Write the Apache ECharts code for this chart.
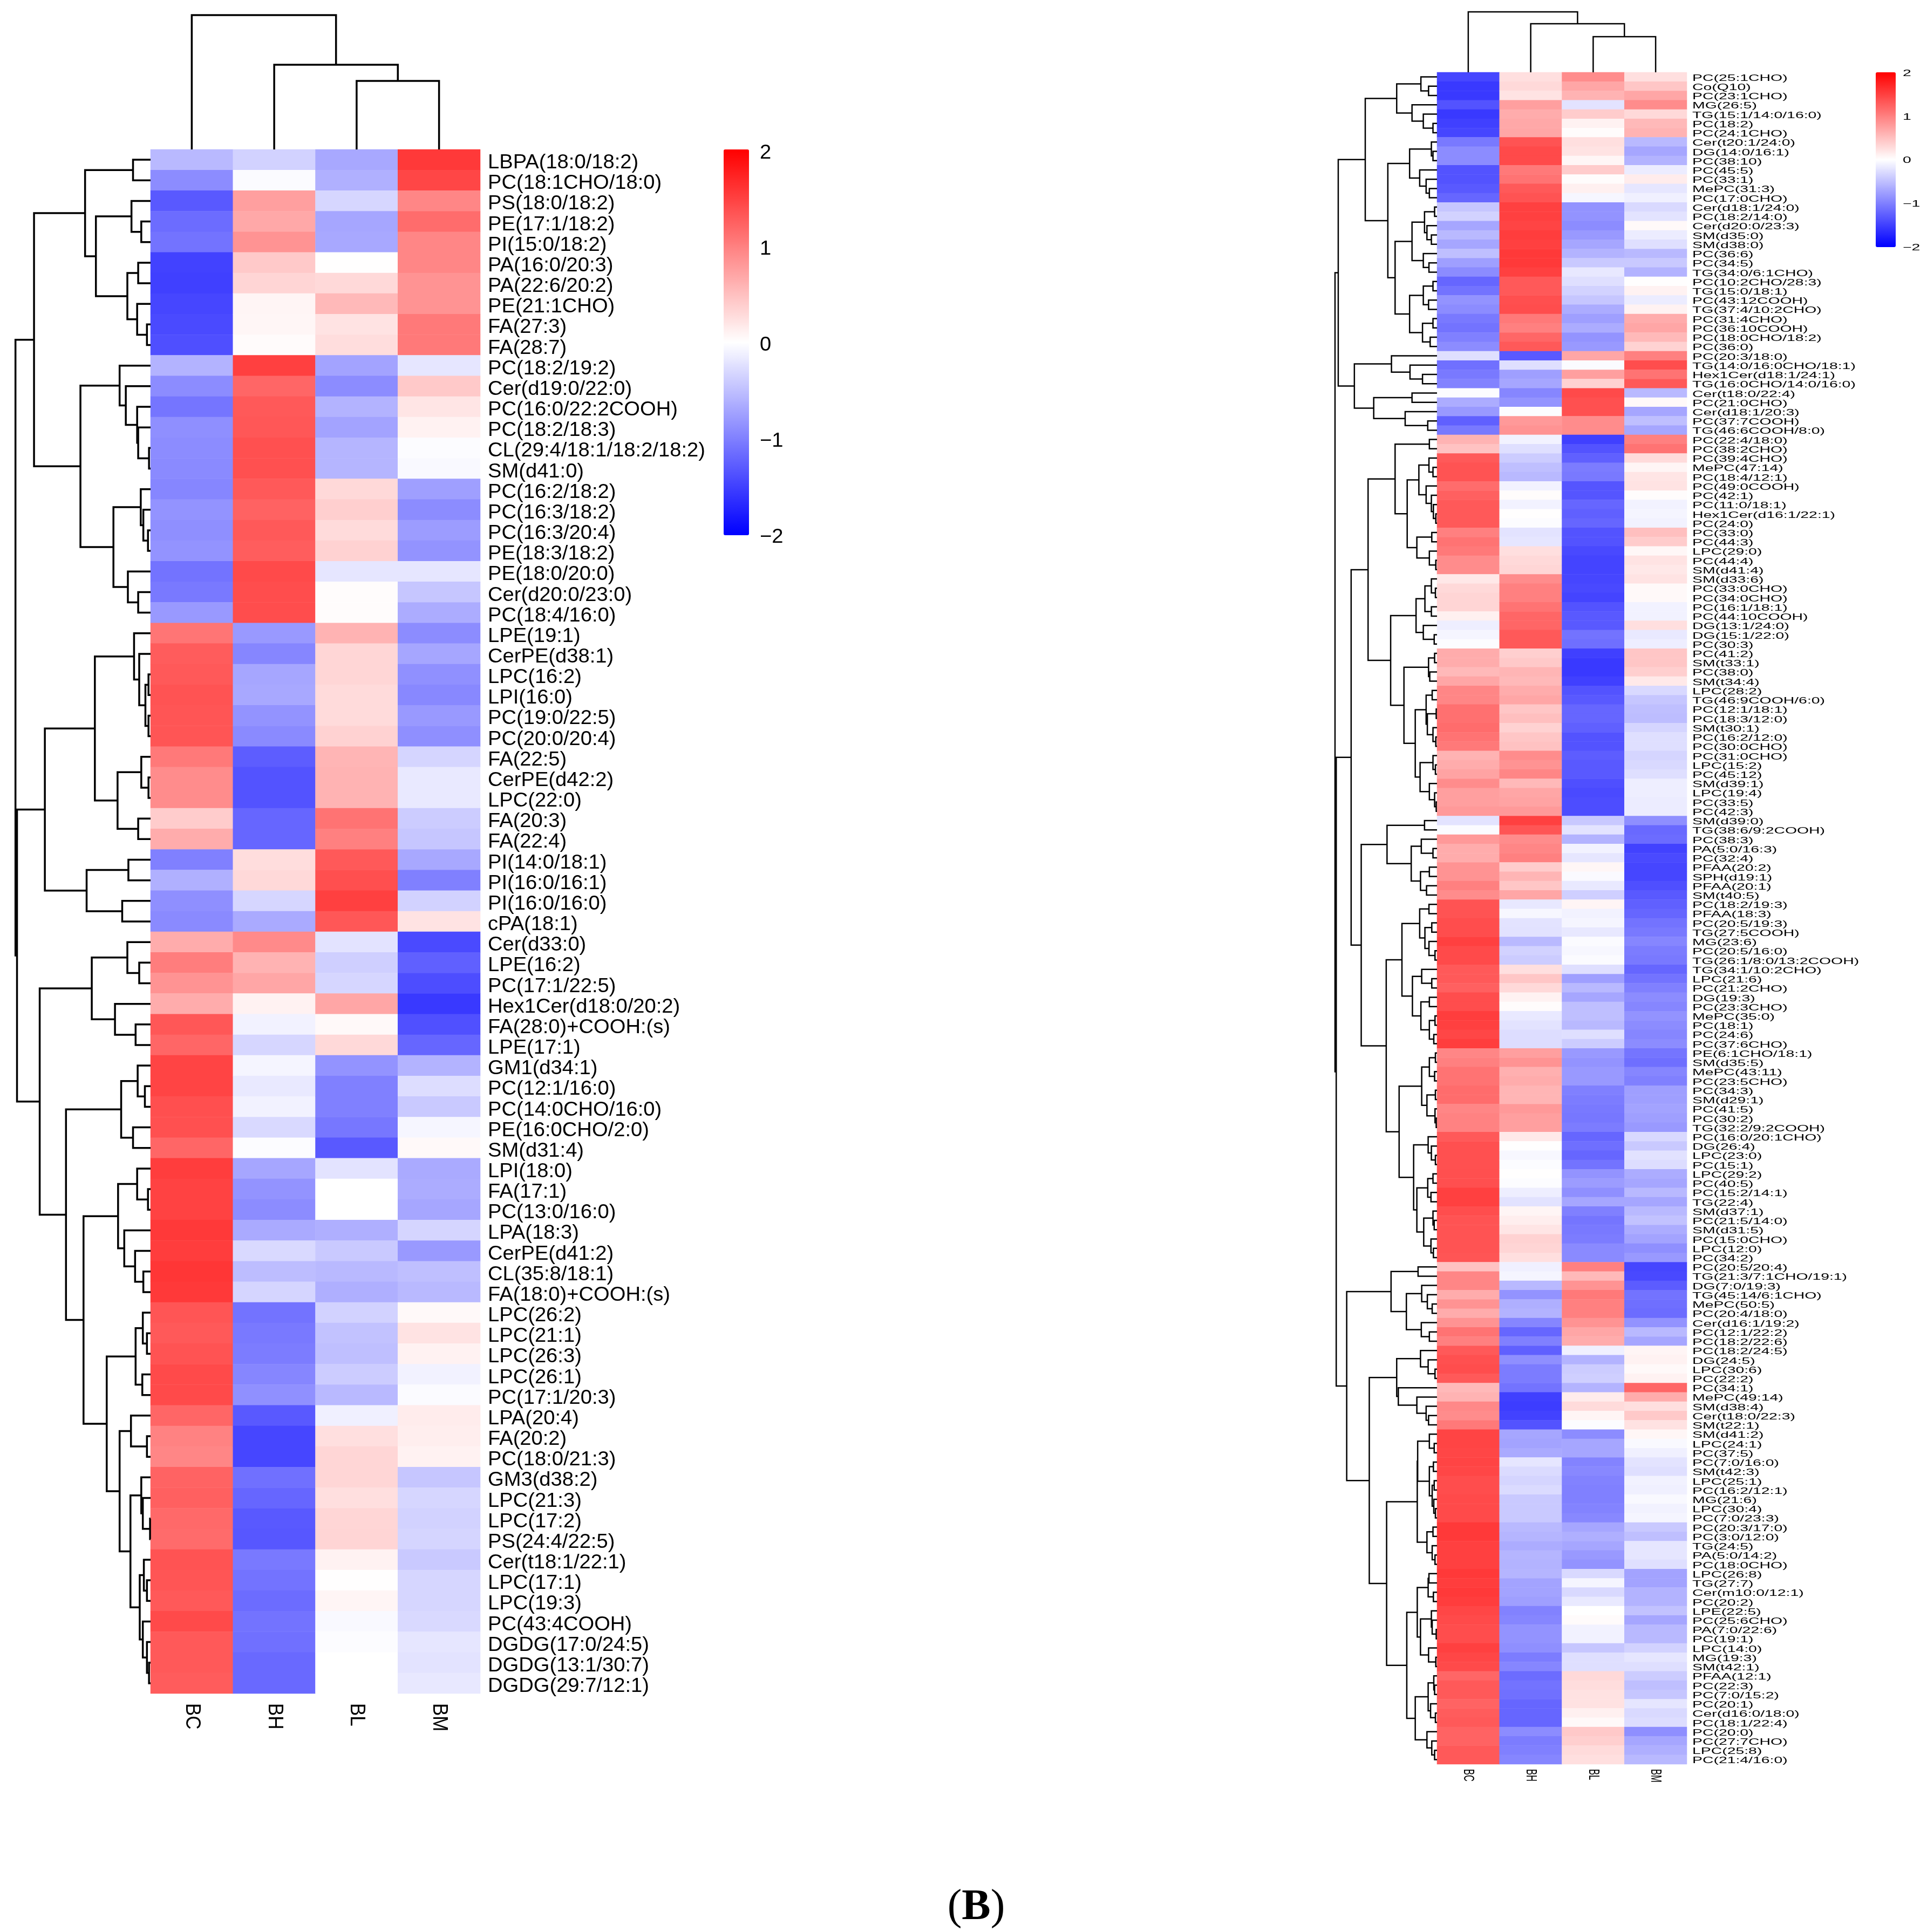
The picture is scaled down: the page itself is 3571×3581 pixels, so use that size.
<!DOCTYPE html>
<html><head><meta charset="utf-8"><style>html,body{margin:0;padding:0;background:#fff}#c{width:3571px;height:3581px}</style>
<script src="https://cdn.jsdelivr.net/npm/echarts@6/dist/echarts.min.js"></script></head><body><div id="c"></div>
<script>
const columns=['BC','BH','BL','BM'];
const legendTicks=[2,1,0,-1,-2];
const caption='B';

const leftRows=['LBPA(18:0/18:2)','PC(18:1CHO/18:0)','PS(18:0/18:2)','PE(17:1/18:2)','PI(15:0/18:2)','PA(16:0/20:3)','PA(22:6/20:2)','PE(21:1CHO)','FA(27:3)','FA(28:7)','PC(18:2/19:2)','Cer(d19:0/22:0)','PC(16:0/22:2COOH)','PC(18:2/18:3)','CL(29:4/18:1/18:2/18:2)','SM(d41:0)','PC(16:2/18:2)','PC(16:3/18:2)','PC(16:3/20:4)','PE(18:3/18:2)','PE(18:0/20:0)','Cer(d20:0/23:0)','PC(18:4/16:0)','LPE(19:1)','CerPE(d38:1)','LPC(16:2)','LPI(16:0)','PC(19:0/22:5)','PC(20:0/20:4)','FA(22:5)','CerPE(d42:2)','LPC(22:0)','FA(20:3)','FA(22:4)','PI(14:0/18:1)','PI(16:0/16:1)','PI(16:0/16:0)','cPA(18:1)','Cer(d33:0)','LPE(16:2)','PC(17:1/22:5)','Hex1Cer(d18:0/20:2)','FA(28:0)+COOH:(s)','LPE(17:1)','GM1(d34:1)','PC(12:1/16:0)','PC(14:0CHO/16:0)','PE(16:0CHO/2:0)','SM(d31:4)','LPI(18:0)','FA(17:1)','PC(13:0/16:0)','LPA(18:3)','CerPE(d41:2)','CL(35:8/18:1)','FA(18:0)+COOH:(s)','LPC(26:2)','LPC(21:1)','LPC(26:3)','LPC(26:1)','PC(17:1/20:3)','LPA(20:4)','FA(20:2)','PC(18:0/21:3)','GM3(d38:2)','LPC(21:3)','LPC(17:2)','PS(24:4/22:5)','Cer(t18:1/22:1)','LPC(17:1)','LPC(19:3)','PC(43:4COOH)','DGDG(17:0/24:5)','DGDG(13:1/30:7)','DGDG(29:7/12:1)'];
const leftBC=[-.55,-.9,-1.3,-1.15,-1.1,-1.48,-1.5,-1.45,-1.42,-1.38,-.6,-.9,-1.08,-.88,-.9,-.92,-.95,-.85,-.88,-.85,-1.1,-1.05,-.8,1.08,1.28,1.3,1.35,1.33,1.33,1.05,.9,.9,.4,.65,-1,-.62,-.88,-.92,.65,1.02,.85,.65,1.32,1.2,1.47,1.47,1.38,1.37,1.2,1.52,1.48,1.48,1.55,1.52,1.58,1.55,1.33,1.3,1.35,1.42,1.42,1.2,.98,.95,1.22,1.25,1.18,1.16,1.35,1.33,1.3,1.42,1.3,1.3,1.28];
const leftBH=[-.35,-.03,.75,.68,.85,.42,.33,.08,.07,.03,1.5,1.2,1.3,1.32,1.37,1.37,1.3,1.23,1.3,1.27,1.42,1.4,1.4,-.8,-.95,-.7,-.68,-.85,-.92,-1.27,-1.35,-1.35,-1.2,-1.2,.27,.3,-.32,-.67,.92,.6,.7,.1,-.1,-.32,-.08,-.17,-.1,-.3,-.02,-.7,-.85,-.9,-.67,-.3,-.52,-.33,-1.1,-1.05,-1.03,-.95,-.87,-1.3,-1.45,-1.45,-1.12,-1.2,-1.3,-1.32,-1.05,-1.1,-1.15,-1.1,-1.12,-1.18,-1.18];
const leftBL=[-.68,-.62,-.32,-.7,-.68,.01,.3,.55,.22,.27,-.72,-.9,-.6,-.72,-.58,-.58,.3,.38,.28,.35,-.2,.02,.02,.6,.32,.32,.28,.28,.35,.58,.6,.6,1.1,1,1.3,1.38,1.5,1.32,-.22,-.38,-.32,.7,.05,.3,-.85,-1,-1,-1.07,-1.3,-.22,0,0,-.63,-.42,-.55,-.63,-.35,-.48,-.5,-.4,-.55,-.12,.25,.32,.32,.25,.32,.33,.1,.01,.08,-.05,-.02,0,0];
const leftBM=[1.55,1.45,.95,1.15,.95,.95,.85,.85,1.05,1.05,-.2,.42,.2,.1,-.02,-.05,-.75,-.9,-.78,-.85,-.2,-.45,-.65,-.9,-.7,-.87,-.93,-.8,-.88,-.33,-.17,-.17,-.4,-.45,-.68,-1,-.35,.22,-1.42,-1.25,-1.4,-1.55,-1.37,-1.2,-.6,-.27,-.42,-.07,.05,-.67,-.65,-.7,-.33,-.8,-.5,-.55,.05,.22,.1,-.1,-.03,.15,.13,.1,-.45,-.32,-.35,-.33,-.42,-.32,-.32,-.3,-.2,-.22,-.18];
// clustering trees: [merge distance, child, child]; a bare number is a row (1-based) or column
const leftRowTree=[262,
 [226,
  [127,[34,1,2],[106,[37,3,[18,4,5]],[45,[24,6,7],[26,8,[7,9,10]]]]],
  [136,[60,11,[48,12,[26,13,[24,14,[3,15,16]]]]],[72,[19,17,[14,18,[5,19,20]]],[44,21,[24,22,23]]]]],
 [259,
  [205,
   [108,[32,24,[22,25,[10,[4,26,27],[4,28,29]]]],[64,[18,30,[4,31,32]],[24,33,34]]],
   [124,[43,35,36],[55,37,38]]],
  [215,
   [114,[45,39,[22,40,41]],[69,42,[29,43,44]]],
   [164,
    [57,[25,45,[11,46,47]],[34,48,49]],
    [130,
     [63,[26,50,[5,51,52]],[51,53,[30,54,[14,55,56]]]],
     [85,[29,[15,57,[7,58,59]],[16,60,61]],[60,[38,62,[7,63,64]],[39,[18,65,[15,66,[1,67,68]]],[21,[13,69,[7,70,71]],[15,72,[7,73,[3,74,75]]]]]]]]]]]];
const leftColTree=[249,1,[157,2,[127,3,4]]];

const rightRows=['PC(25:1CHO)','Co(Q10)','PC(23:1CHO)','MG(26:5)','TG(15:1/14:0/16:0)','PC(18:2)','PC(24:1CHO)','Cer(t20:1/24:0)','DG(14:0/16:1)','PC(38:10)','PC(45:5)','PC(33:1)','MePC(31:3)','PC(17:0CHO)','Cer(d18:1/24:0)','PC(18:2/14:0)','Cer(d20:0/23:3)','SM(d35:0)','SM(d38:0)','PC(36:6)','PC(34:5)','TG(34:0/6:1CHO)','PC(10:2CHO/28:3)','TG(15:0/18:1)','PC(43:12COOH)','TG(37:4/10:2CHO)','PC(31:4CHO)','PC(36:10COOH)','PC(18:0CHO/18:2)','PC(36:0)','PC(20:3/18:0)','TG(14:0/16:0CHO/18:1)','Hex1Cer(d18:1/24:1)','TG(16:0CHO/14:0/16:0)','Cer(t18:0/22:4)','PC(21:0CHO)','Cer(d18:1/20:3)','PC(37:7COOH)','TG(46:6COOH/8:0)','PC(22:4/18:0)','PC(38:2CHO)','PC(39:4CHO)','MePC(47:14)','PC(18:4/12:1)','PC(49:0COOH)','PC(42:1)','PC(11:0/18:1)','Hex1Cer(d16:1/22:1)','PC(24:0)','PC(33:0)','PC(44:3)','LPC(29:0)','PC(44:4)','SM(d41:4)','SM(d33:6)','PC(33:0CHO)','PC(34:0CHO)','PC(16:1/18:1)','PC(44:10COOH)','DG(13:1/24:0)','DG(15:1/22:0)','PC(30:3)','PC(41:2)','SM(t33:1)','PC(38:0)','SM(t34:4)','LPC(28:2)','TG(46:9COOH/6:0)','PC(12:1/18:1)','PC(18:3/12:0)','SM(t30:1)','PC(16:2/12:0)','PC(30:0CHO)','PC(31:0CHO)','LPC(15:2)','PC(45:12)','SM(d39:1)','LPC(19:4)','PC(33:5)','PC(42:3)','SM(d39:0)','TG(38:6/9:2COOH)','PC(38:3)','PA(5:0/16:3)','PC(32:4)','PFAA(20:2)','SPH(d19:1)','PFAA(20:1)','SM(t40:5)','PC(18:2/19:3)','PFAA(18:3)','PC(20:5/19:3)','TG(27:5COOH)','MG(23:6)','PC(20:5/16:0)','TG(26:1/8:0/13:2COOH)','TG(34:1/10:2CHO)','LPC(21:6)','PC(21:2CHO)','DG(19:3)','PC(23:3CHO)','MePC(35:0)','PC(18:1)','PC(24:6)','PC(37:6CHO)','PE(6:1CHO/18:1)','SM(d35:5)','MePC(43:11)','PC(23:5CHO)','PC(34:3)','SM(d29:1)','PC(41:5)','PC(30:2)','TG(32:2/9:2COOH)','PC(16:0/20:1CHO)','DG(26:4)','LPC(23:0)','PC(15:1)','LPC(29:2)','PC(40:5)','PC(15:2/14:1)','TG(22:4)','SM(d37:1)','PC(21:5/14:0)','SM(d31:5)','PC(15:0CHO)','LPC(12:0)','PC(34:2)','PC(20:5/20:4)','TG(21:3/7:1CHO/19:1)','DG(7:0/19:3)','TG(45:14/6:1CHO)','MePC(50:5)','PC(20:4/18:0)','Cer(d16:1/19:2)','PC(12:1/22:2)','PC(18:2/22:6)','PC(18:2/24:5)','DG(24:5)','LPC(30:6)','PC(22:2)','PC(34:1)','MePC(49:14)','SM(d38:4)','Cer(t18:0/22:3)','SM(t22:1)','SM(d41:2)','LPC(24:1)','PC(37:5)','PC(7:0/16:0)','SM(t42:3)','LPC(25:1)','PC(16:2/12:1)','MG(21:6)','LPC(30:4)','PC(7:0/23:3)','PC(20:3/17:0)','PC(3:0/12:0)','TG(24:5)','PA(5:0/14:2)','PC(18:0CHO)','LPC(26:8)','TG(27:7)','Cer(m10:0/12:1)','PC(20:2)','LPE(22:5)','PC(25:6CHO)','PA(7:0/22:6)','PC(19:1)','LPC(14:0)','MG(19:3)','SM(t42:1)','PFAA(12:1)','PC(22:3)','PC(7:0/15:2)','PC(20:1)','Cer(d16:0/18:0)','PC(18:1/22:4)','PC(20:0)','PC(27:7CHO)','LPC(25:8)','PC(21:4/16:0)'];
const rightBC=[-1.45,-1.55,-1.55,-1.35,-1.55,-1.5,-1.45,-1.05,-.9,-.9,-1.35,-1.35,-1.3,-1.2,-.45,-.35,-.7,-.55,-.7,-.5,-.75,-.9,-1.2,-1.1,-.85,-.9,-1.05,-1.1,-1,-.9,-.25,-1.12,-1.05,-.98,-.02,-.65,-.8,-1.25,-1.05,.6,.48,1.3,1.35,1.35,1.15,1.25,1.3,1.3,1.3,1,1.1,1.05,.9,.9,.18,.3,.33,.33,.12,-.13,-.08,-.02,.65,.65,.55,.7,.95,.95,1.12,1.12,1.15,1.1,1.05,.6,.65,.72,.9,.75,.75,.8,-.22,-.03,.8,.65,.65,.85,.85,1,.9,1.35,1.35,1.4,1.4,1.5,1.42,1.42,1.3,1.3,1.25,1.4,1.4,1.52,1.5,1.45,1.52,.95,1,1.1,1.1,1.15,1.15,.95,.98,.98,1.3,1.37,1.37,1.37,1.38,1.38,1.5,1.5,1.4,1.35,1.35,1.35,1.35,1.33,.48,.95,.95,.65,.85,.65,.85,1.1,1,1.3,1.37,1.4,1.3,.55,.6,.93,.9,1.05,1.47,1.47,1.45,1.47,1.45,1.4,1.4,1.42,1.42,1.42,1.55,1.55,1.5,1.5,1.5,1.55,1.52,1.55,1.52,1.45,1.42,1.4,1.4,1.5,1.45,1.42,1.2,1.3,1.3,1.22,1.28,1.3,1.22,1.22,1.3,1.3];
const rightBH=[.25,.3,.22,.75,.65,.68,.7,1.35,1.42,1.42,1.05,1.1,1.3,1.35,1.5,1.5,1.47,1.52,1.5,1.55,1.55,1.5,1.3,1.3,1.38,1.4,1.05,1,1.2,1.3,-1.3,-.25,-.75,-.7,-.95,-.85,-.02,.8,.85,-.1,-.25,-.4,-.5,-.55,-.1,.02,-.1,.01,-.02,-.22,-.2,.25,.3,.32,.9,1,1,1.1,1.2,1.2,1.3,1.3,.38,.42,.58,.55,.65,.7,.45,.5,.35,.45,.48,.9,.85,.95,.55,.7,.72,.8,1.5,1.33,.9,.95,1,.4,.58,.45,.7,-.18,-.06,-.22,-.23,-.55,-.35,-.4,.25,.45,.3,.1,.02,-.17,-.22,-.27,-.27,.75,.85,.62,.65,.58,.58,.8,.75,.75,.18,.01,-.06,-.02,.01,-.02,-.13,-.23,.08,.13,.2,.35,.33,.25,-.12,-.08,-.55,-.85,-.63,-.6,-.95,-1.2,-1,-1.25,-.88,-1.03,-1.03,-1.1,-1.5,-1.52,-1.48,-1.35,-.7,-.72,-.67,-.2,-.28,-.33,-.28,-.42,-.42,-.42,-.55,-.58,-.65,-.58,-.6,-.58,-.72,-.72,-.75,-.98,-.95,-.85,-.85,-.88,-1.03,-.95,-1.15,-1.1,-1.12,-1.2,-1.2,-1.2,-.9,-1.03,-1,-.95];
const rightBL=[.9,.7,.6,-.22,.4,.1,.02,.25,.22,.07,.4,.02,.12,-.07,-.85,-.85,-.9,-.8,-.7,-.6,-.42,-.18,-.25,-.35,-.45,-.65,-.75,-.65,-.85,-.8,.7,-.03,.75,.35,1.42,1.37,1.37,.9,.9,-1.5,-1.35,-1.25,-1.03,-1.05,-1.33,-1.33,-1.2,-1.25,-1.2,-1.35,-1.35,-1.43,-1.47,-1.47,-1.45,-1.43,-1.47,-1.35,-1.3,-1.3,-1.1,-1.13,-1.5,-1.55,-1.55,-1.5,-1.35,-1.3,-1.2,-1.2,-1.25,-1.35,-1.35,-1.27,-1.3,-1.3,-1.38,-1.42,-1.4,-1.4,-.43,-.22,-.6,-.1,-.2,.07,-.04,-.17,-.38,.08,-.1,-.08,-.18,-.03,-.06,-.03,-.25,-.75,-.55,-.7,-.5,-.5,-.55,-.25,-.4,-.8,-.85,-.8,-.8,-1,-1.03,-1.05,-1.07,-1.03,-1.2,-1.13,-1.2,-1.1,-.85,-.78,-.88,-.7,-1,-1.08,-1.05,-1.03,-.92,-.92,1,.55,.85,1.05,1,1,.85,.7,.65,-.12,-.6,-.4,-.38,-.6,.15,.28,.08,-.02,-.9,-.7,-.7,-.97,-.93,-.98,-1,-1,-.97,-.93,-.7,-.63,-.7,-.8,-.85,-.3,-.08,-.3,-.17,0,.03,-.1,-.1,-.45,-.25,-.25,.3,.27,.23,.23,.12,.05,.42,.38,.28,.25];
const rightBM=[.25,.45,.7,.9,.3,.55,.6,-.55,-.7,-.6,-.15,.15,-.2,-.12,-.3,-.22,.05,-.15,-.25,-.55,-.42,-.6,.01,.1,-.15,.1,.65,.7,.55,.35,1,1.4,1.1,1.3,-.55,.05,-.7,-.5,-.7,1,1.1,.28,.08,.2,.22,.02,-.1,-.08,-.1,.5,.4,.06,.22,.18,.22,.05,.05,-.1,-.1,.25,-.17,-.13,.45,.45,.38,.17,-.3,-.45,-.5,-.52,-.33,-.25,-.25,-.33,-.3,-.25,-.13,-.13,-.15,-.15,-.88,-1.18,-1.15,-1.48,-1.42,-1.45,-1.45,-1.38,-1.3,-1.25,-1.2,-1.1,-1.05,-.95,-1.03,-1.05,-1.2,-1.1,-1,-.9,-.95,-.85,-.9,-.95,-.9,-1.08,-1.13,-.95,-1,-.75,-.75,-.72,-.75,-.8,-.3,-.42,-.23,-.27,-.65,-.7,-.55,-.7,-.55,-.48,-.65,-.72,-.88,-.8,-1.45,-1.43,-1.28,-1.1,-1.13,-1.15,-.85,-.55,-.7,.08,.1,.05,.1,1.2,.65,.25,.42,.23,.07,-.05,-.12,-.22,-.25,-.1,-.12,-.05,-.1,-.08,-.42,-.5,-.2,-.2,-.25,-.72,-.72,-.6,-.6,-.48,-.7,-.55,-.55,-.35,-.2,-.25,-.4,-.5,-.45,-.2,-.3,-.27,-.88,-.7,-.63,-.55];
const rightRowTree=[253,
 [245,
  [178,
   [100,[40,1,[21,2,3]],[62,4,[34,5,[10,6,7]]]],
   [122,
    [68,[14,8,[10,9,10]],[43,11,[27,12,[19,13,14]]]],
    [104,
     [62,[31,[6,15,16],[25,17,[14,18,19]]],[34,20,[20,21,22]]],
     [68,[34,[10,23,24],[21,25,26]],[36,[10,27,28],[17,29,30]]]]]],
  [205,[113,31,[67,32,[36,33,34]]],[157,[62,35,36],[79,37,[23,38,39]]]]],
 [250,
  [213,
   [171,
    [104,[19,40,41],[74,[45,[20,42,[10,43,44]],[27,45,[14,46,[9,47,[3,48,49]]]]],[50,[13,50,51],[19,52,[3,53,54]]]]],
    [115,
     [52,[30,[14,55,[4,56,57]],[14,58,59]],[34,60,[7,61,62]]],
     [82,[21,[6,63,64],[18,65,66]],[54,[27,[12,67,68],[24,[2,69,70],[10,71,[3,72,73]]]],[42,[10,74,[4,75,76]],[19,77,[6,78,[2,79,80]]]]]]]],
   [188,
    [124,[31,81,82],[64,[39,83,[10,84,85]],[41,[19,86,87],[26,88,89]]]],
    [126,
     [87,[43,[20,90,91],[30,[13,92,93],[20,94,[5,95,96]]]],[61,[38,97,[13,98,99]],[40,[19,100,101],[19,[5,102,103],[8,104,105]]]]],
     [94,
      [38,[19,[4,106,107],[6,108,109]],[25,[4,110,111],[5,112,[2,113,114]]]],
      [58,[22,115,[14,116,[4,117,118]]],[50,[23,[10,119,120],[15,121,122]],[33,[10,123,[7,124,125]],[15,126,[9,127,128]]]]]]]]],
  [224,
   [114,[47,129,130],[76,[38,131,[24,132,[12,133,134]]],[39,135,[19,136,137]]]],
   [168,
    [100,[41,138,[22,139,[5,140,141]]],[96,142,[50,143,[27,144,[21,145,146]]]]],
    [125,
     [49,[48,[19,147,[7,148,149]],[19,[9,150,151],[12,[7,152,153],[8,154,[4,155,156]]]]],[25,[10,157,158],[12,159,[5,160,161]]]],
     [75,
      [49,[22,[20,162,163],[9,164,165]],[41,[14,166,[12,167,[2,168,169]]],[21,170,[3,171,172]]]],
      [54,[22,[8,173,[6,174,175]],[16,176,[4,177,178]]],[25,179,[13,180,[6,181,182]]]]]]]]]];
const rightColTree=[112,1,[90,2,[66,3,4]]];

// layout of the two panels
const panels=[
 {rows:leftRows,vals:[leftBC,leftBH,leftBL,leftBM],rowTree:leftRowTree,colTree:leftColTree,
  x:279,y:277,w:611,h:2862,dendMax:292,dendLeft:0,colTop:28,colMax:249,
  barX:1341,barW:47,barH:715,font:36.5,stretch:1.045,colFont:35,colStretch:1.09,labelGap:14,colGap:18,tickX:1408,lw:3.5,tickMax:2.02,rowDy:6,tickDy:3.5},
 {rows:rightRows,vals:[rightBC,rightBH,rightBL,rightBM],rowTree:rightRowTree,colTree:rightColTree,
  x:2663,y:134,w:463,h:3136,dendMax:352,dendLeft:2400,colTop:22,colMax:112,
  barX:3476,barW:37,barH:324,font:16.5,stretch:1.72,colFont:16.5,colStretch:1.72,labelGap:10,colGap:9,tickX:3526,lw:2.5,tickMax:2.02,rowDy:2.5,tickDy:1}
];

function treeSegments(t,out){
 if(typeof t==='number')return {h:0,p:t-0.5};
 const a=treeSegments(t[1],out),b=treeSegments(t[2],out);
 out.push([a.h,a.p,t[0],b.p,b.h]);
 return {h:t[0],p:(a.p+b.p)/2};
}
const grids=[],xAxes=[],yAxes=[],series=[],visualMaps=[];
const FONT='"Liberation Sans",Arial,sans-serif';
function addGrid(g,xa,ya){
 grids.push(Object.assign({containLabel:false},g));
 const i=grids.length-1;
 xAxes.push(Object.assign({gridIndex:i,show:false},xa));
 yAxes.push(Object.assign({gridIndex:i,show:false},ya));
 return i;
}
const catIdx=[];
panels.forEach((p,pi)=>{
 const data=[];
 p.vals.forEach((col,c)=>col.forEach((v,r)=>data.push([c,r,v])));
 const gi=addGrid({left:p.x,top:p.y,width:p.w,height:p.h},{type:'category',data:columns},{type:'category',data:p.rows,inverse:true});
 catIdx.push(gi);
 series.push({type:'heatmap',name:'heat'+pi,xAxisIndex:gi,yAxisIndex:gi,data,progressive:0,animation:false,itemStyle:{borderWidth:0},emphasis:{disabled:true}});
 visualMaps.push({type:'continuous',seriesIndex:pi,dimension:2,min:-2,max:2,calculable:false,hoverLink:false,realtime:false,
  left:p.barX,top:p.y,itemWidth:p.barW,itemHeight:p.barH,padding:0,text:null,showLabel:false,inRange:{color:['#0000ff','#ffffff','#ff0000']}});
});
panels.forEach((p,pi)=>{
 const gi=catIdx[pi];
 // row labels
 series.push({type:'custom',xAxisIndex:gi,yAxisIndex:gi,coordinateSystem:'cartesian2d',clip:false,animation:false,silent:true,
  data:p.rows.map((l,i)=>[0,i]),encode:{x:0,y:1},
  renderItem:(par,api)=>{const c=api.coord([0,par.dataIndex]);
   return {type:'text',x:p.x+p.w+p.labelGap,y:c[1]+p.rowDy,scaleX:p.stretch,scaleY:1,
    style:{text:p.rows[par.dataIndex],fontSize:p.font,fontFamily:FONT,fill:'#000',align:'left',verticalAlign:'middle'}};}});
 // column labels
 series.push({type:'custom',xAxisIndex:gi,yAxisIndex:gi,coordinateSystem:'cartesian2d',clip:false,animation:false,silent:true,
  data:columns.map((l,i)=>[i,0]),encode:{x:0,y:1},
  renderItem:(par,api)=>{const c=api.coord([par.dataIndex,0]);
   return {type:'text',x:c[0],y:p.y+p.h+p.colGap,rotation:-Math.PI/2,scaleX:1,scaleY:p.colStretch,
    style:{text:columns[par.dataIndex],fontSize:p.colFont,fontFamily:FONT,fill:'#000',align:'left',verticalAlign:'middle'}};}});
 // row dendrogram
 const rseg=[];treeSegments(p.rowTree,rseg);
 const rg=addGrid({left:p.dendLeft,top:p.y,width:p.x-p.dendLeft,height:p.h},{type:'value',min:0,max:p.dendMax,inverse:true},{type:'value',min:0,max:p.rows.length,inverse:true});
 const dendStyle={stroke:'#000',lineWidth:p.lw,fill:null,lineJoin:'miter'};
 series.push({type:'custom',xAxisIndex:rg,yAxisIndex:rg,coordinateSystem:'cartesian2d',clip:false,animation:false,silent:true,data:rseg,
  encode:{x:0,y:1},
  renderItem:(par,api)=>{const v=i=>api.value(i);
   return {type:'polyline',shape:{points:[api.coord([v(0),v(1)]),api.coord([v(2),v(1)]),api.coord([v(2),v(3)]),api.coord([v(4),v(3)])]},style:dendStyle};}});
 // column dendrogram
 const cseg=[];treeSegments(p.colTree,cseg);
 const cg=addGrid({left:p.x,top:p.colTop,width:p.w,height:p.y-p.colTop},{type:'value',min:0,max:columns.length},{type:'value',min:0,max:p.colMax});
 series.push({type:'custom',xAxisIndex:cg,yAxisIndex:cg,coordinateSystem:'cartesian2d',clip:false,animation:false,silent:true,data:cseg,
  encode:{x:1,y:0},
  renderItem:(par,api)=>{const v=i=>api.value(i);
   return {type:'polyline',shape:{points:[api.coord([v(1),v(0)]),api.coord([v(1),v(2)]),api.coord([v(3),v(2)]),api.coord([v(3),v(4)])]},style:dendStyle};}});
 // colour-bar tick labels on a value axis aligned with the bar
 const lg=addGrid({left:p.barX,top:p.y,width:p.barW,height:p.barH},{type:'value',min:0,max:1},{type:'value',min:-2,max:p.tickMax});
 series.push({type:'custom',xAxisIndex:lg,yAxisIndex:lg,coordinateSystem:'cartesian2d',clip:false,animation:false,silent:true,
  data:legendTicks.map(t=>[0,t]),encode:{x:0,y:1},
  renderItem:(par,api)=>{const c=api.coord([0,api.value(1)]);const t=legendTicks[par.dataIndex];
   return {type:'text',x:p.tickX,y:c[1]+p.tickDy,scaleX:p.stretch,style:{text:String(t).replace('-','\u2212'),fontSize:p.font,fontFamily:FONT,fill:'#000',align:'left',verticalAlign:'middle'}};}});
});
const chart=echarts.init(document.getElementById('c'),null,{renderer:'canvas',width:3571,height:3581});
chart.setOption({
 animation:false,backgroundColor:'#fff',
 title:{text:'{p|(}{b|'+caption+'}{p|)}',left:1804,top:3491,textAlign:'center',
  textStyle:{fontWeight:'normal',rich:{p:{fontFamily:'"Liberation Serif",serif',fontSize:80,fontWeight:'normal',color:'#000'},b:{fontFamily:'"Liberation Serif",serif',fontSize:80,fontWeight:'bold',color:'#000'}}}},
 tooltip:{show:false},
 grid:grids,xAxis:xAxes,yAxis:yAxes,visualMap:visualMaps,series
});
</script></body></html>
